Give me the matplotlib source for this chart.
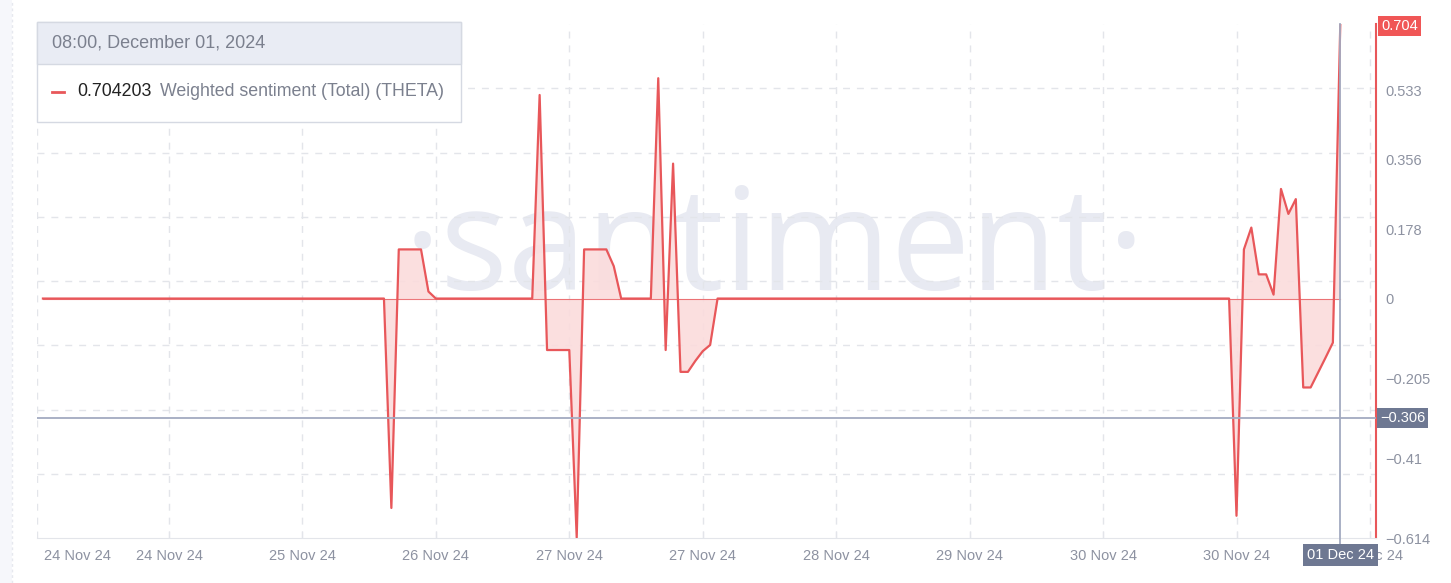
import matplotlib
matplotlib.use("Agg")
import numpy as np
import pandas as pd
import matplotlib.dates as mdates
from matplotlib import pyplot as plt
from matplotlib.patches import Rectangle

matplotlib.rcParams.update({'font.family': ['Liberation Sans', 'DejaVu Sans']})

## data: hours after 24 Nov 2024 01:00, weighted sentiment (THETA)
hours = [0, 46, 47, 48, 51, 52, 53,
         66, 67, 68, 71, 72, 73, 76, 77, 78,
         82, 83, 84, 85, 86, 87, 88, 89, 90, 91,
         160, 161, 162, 163, 164, 165, 166, 167, 168, 169, 170, 171, 172, 173, 174, 175]
sentiment = [0, 0, -0.537, 0.126, 0.126, 0.018, 0,
             0, 0.522, -0.132, -0.132, -0.613, 0.126, 0.126, 0.083, 0,
             0, 0.565, -0.132, 0.346, -0.188, -0.188, -0.160, -0.135, -0.119, 0,
             0, -0.557, 0.126, 0.182, 0.062, 0.062, 0.010, 0.281, 0.217, 0.255, -0.228, -0.228,
             -0.190, -0.152, -0.113, 0.704]

ytick_vals = [0.533, 0.356, 0.178, 0, -0.205, -0.41, -0.614]
ytick_labels = ["0.533", "0.356", "0.178", "0", "\u22120.205", "\u22120.41", "\u22120.614"]
y_top, y_bottom = 0.704, -0.614
cursor_value = -0.306

start = pd.Timestamp("2024-11-24 01:00")
t = [start + pd.Timedelta(hours=h) for h in hours]
xtick_times = pd.date_range("2024-11-24 18:00", periods=10, freq="18h")
x_left = pd.Timestamp("2024-11-24 00:12")
x_right = pd.Timestamp("2024-12-01 12:49")

red = "#e8575a"
grey_txt = "#8d92a1"
slate = "#6e7892"
grid_c = "#e3e5ea"
fs = 10.5

fig = plt.figure(figsize=(14.51, 5.83), dpi=100)
fig.patch.set_facecolor("white")
# light strip on the far left
fig.patches.append(Rectangle((0, 0), 12 / 1451, 1, transform=fig.transFigure,
                             facecolor="#f6f7fb", edgecolor="none", zorder=-5))
fig.add_artist(plt.Line2D([12 / 1451] * 2, [0, 1], color="#e6e8ef", lw=1, ls=(0, (2, 2))))

ax = fig.add_axes([37 / 1451, 45 / 583, 1339 / 1451, 514 / 583])
ax.set_xlim(x_left, x_right)
ax.set_ylim(y_bottom, y_top)

# watermark
ax.text(0.551, 0.555, "\u00b7santiment\u00b7", transform=ax.transAxes, ha="center", va="center",
        fontsize=102, color="#e8eaf2", family="Open Sans", zorder=0)

# grid
for yy in np.linspace(y_bottom, y_top, 9)[1:-1]:
    ax.axhline(yy, color=grid_c, lw=1, ls=(0, (5, 5)), zorder=1)
for xx in xtick_times:
    ax.axvline(xx, color=grid_c, lw=1, ls=(0, (5, 5)), zorder=1)
ax.axvline(x_left, color=grid_c, lw=1, ls=(0, (5, 5)), zorder=1)

# series
ax.fill_between(t, sentiment, 0, color="#fbdcdc", alpha=0.9, lw=0, interpolate=True, zorder=2)
ax.plot([t[0], t[-1]], [0, 0], color=red, lw=0.8, alpha=0.8, zorder=3)
ax.plot(t, sentiment, color=red, lw=1.6, zorder=4)

# crosshair
ax.axhline(cursor_value, color="#a3aac0", lw=1.3, zorder=5)
ax.plot([t[-1], t[-1]], [y_bottom - 0.02, y_top], color="#a3aac0", lw=1.3, zorder=5, clip_on=False)

# spines
for s in ["top", "left"]:
    ax.spines[s].set_visible(False)
ax.spines["right"].set_color(red)
ax.spines["right"].set_linewidth(1.5)
ax.spines["bottom"].set_color("#e3e5ea")

# y ticks on right
ax.yaxis.tick_right()
ax.set_yticks(ytick_vals)
ax.set_yticklabels(ytick_labels)
ax.tick_params(axis="y", length=0, pad=7, labelsize=fs, labelcolor=grey_txt)

# x ticks
ax.set_xticks(xtick_times)
ax.set_xticklabels([d.strftime("%d %b %y") for d in xtick_times])
ax.tick_params(axis="x", direction="in", length=5, color="#e3e5ea", pad=8,
               labelsize=fs, labelcolor=grey_txt)
ax.text(7 / 1339, -0.0215, "24 Nov 24", transform=ax.transAxes, ha="left", va="top",
        fontsize=fs, color=grey_txt)

# value boxes
ax.text(1.0 + 5 / 1339, y_top - 0.005, "0.704", transform=ax.get_yaxis_transform(), ha="left",
        va="center", fontsize=fs, color="white", zorder=10, clip_on=False,
        bbox=dict(boxstyle="square,pad=0.22", fc="#f05656", ec="none"))
ax.text(1.0 + 4 / 1339, cursor_value, "\u22120.306", transform=ax.get_yaxis_transform(), ha="left",
        va="center", fontsize=fs, color="white", zorder=10, clip_on=False,
        bbox=dict(boxstyle="square,pad=0.22", fc=slate, ec="none"))
ax.annotate("01 Dec 24", xy=(mdates.date2num(t[-1]), 0), xycoords=("data", "axes fraction"),
            xytext=(0, -12.5), textcoords="offset points", ha="center", va="center",
            fontsize=fs, color="white", zorder=10, annotation_clip=False,
            bbox=dict(boxstyle="square,pad=0.28", fc=slate, ec="none"))

# tooltip box
tx0, ty0, tw, th = 37 / 1451, 1 - 122 / 583, 424 / 1451, 100 / 583
fig.patches.append(Rectangle((tx0, ty0), tw, th, transform=fig.transFigure,
                             facecolor="white", edgecolor="#d5d9e2", lw=1, zorder=20))
fig.patches.append(Rectangle((tx0, 1 - 64 / 583), tw, 42 / 583, transform=fig.transFigure,
                             facecolor="#e9ecf4", edgecolor="#d5d9e2", lw=1, zorder=21))
fig.text(52 / 1451, 1 - 43 / 583, "08:00, December 01, 2024", ha="left", va="center",
         fontsize=13, color="#7b808e", zorder=22)
fig.add_artist(plt.Line2D([52 / 1451, 64 / 1451], [1 - 92 / 583] * 2, color=red, lw=2, zorder=22))
fig.text(77 / 1451, 1 - 92 / 583, "0.704203", ha="left", va="center",
         fontsize=12.8, color="#222222", zorder=22)
fig.text(160 / 1451, 1 - 92 / 583, "Weighted sentiment (Total) (THETA)", ha="left", va="center",
         fontsize=12.8, color="#7b808e", zorder=22)

fig.savefig("out.png", dpi=100)
